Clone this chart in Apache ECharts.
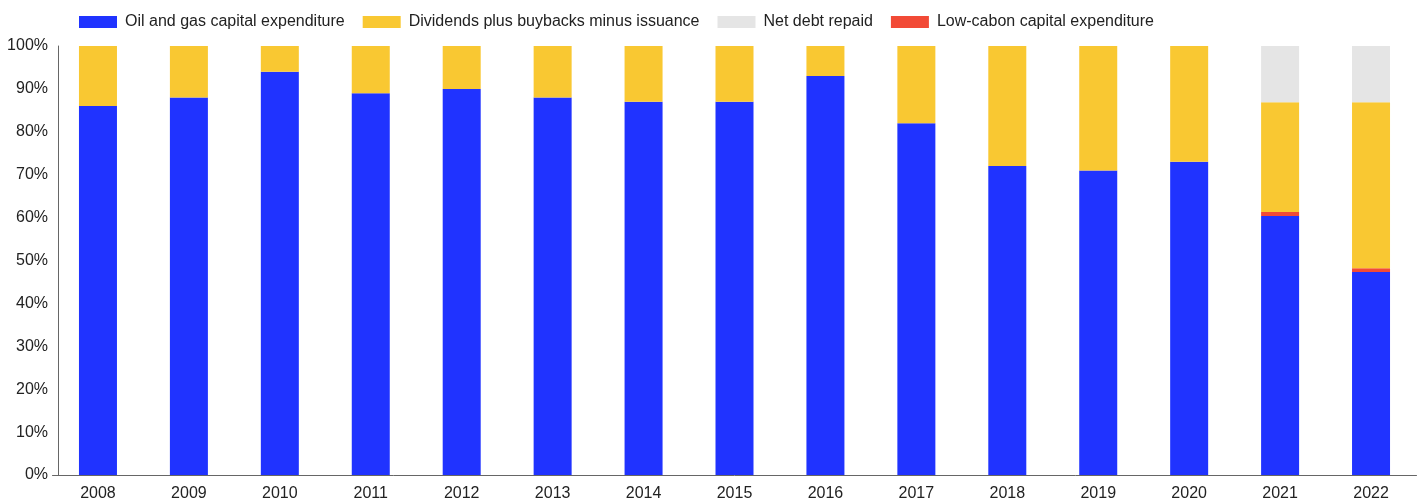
<!DOCTYPE html>
<html>
<head>
<meta charset="utf-8">
<script src="https://cdn.jsdelivr.net/npm/echarts@6/dist/echarts.min.js"></script>
<style>html,body{margin:0;padding:0;background:#fff;}#c{width:1419px;height:502px;}</style>
</head>
<body>
<div id="c"></div>
<script>
const years = ['2008','2009','2010','2011','2012','2013','2014','2015','2016','2017','2018','2019','2020','2021','2022'];
const oilGasCapex = [86, 88, 94, 89, 90, 88, 87, 87, 93, 82, 72, 71, 73, 60.4, 47.3];
const lowCarbonCapex = [0, 0, 0, 0, 0, 0, 0, 0, 0, 0, 0, 0, 0, 0.9, 0.9];
const dividends = [14, 12, 6, 11, 10, 12, 13, 13, 7, 18, 28, 29, 27, 25.6, 38.7];
const netDebt = [0, 0, 0, 0, 0, 0, 0, 0, 0, 0, 0, 0, 0, 13.1, 13.1];
const yTicks = [0, 10, 20, 30, 40, 50, 60, 70, 80, 90, 100];

const names = {
  oil: 'Oil and gas capital expenditure',
  div: 'Dividends plus buybacks minus issuance',
  debt: 'Net debt repaid',
  low: 'Low-cabon capital expenditure'
};
const colors = { oil: '#2033FF', div: '#F9C832', debt: '#E5E5E5', low: '#F24A36' };

const chart = echarts.init(document.getElementById('c'), null, { renderer: 'canvas' });
const axisFont = "'Liberation Sans', Arial, sans-serif";

function bar(key, data) {
  return {
    name: names[key], type: 'bar', stack: 'total', data: data,
    barWidth: 38, itemStyle: { color: colors[key] }, emphasis: { disabled: true }
  };
}

chart.setOption({
  animation: false,
  legend: {
    left: 79, top: 14, padding: 0, itemWidth: 38, itemHeight: 12, itemGap: 18,
    icon: 'rect',
    data: [names.oil, names.div, names.debt, names.low],
    textStyle: { fontFamily: axisFont, fontSize: 16, color: '#222', padding: [0, 0, 0, 3] }
  },
  grid: { left: 52.5, right: 2.5, top: 46, bottom: 26.5, containLabel: false },
  xAxis: {
    type: 'category', data: years,
    axisLine: { lineStyle: { color: '#666', width: 1 } },
    axisTick: { show: false },
    axisLabel: { fontFamily: axisFont, fontSize: 16, color: '#222', margin: 11 }
  },
  yAxis: {
    type: 'value', min: 0, max: 100, interval: 10, offset: -5.5,
    axisLine: { show: true, lineStyle: { color: '#666', width: 1 } },
    axisTick: { show: false },
    splitLine: { show: false },
    axisLabel: { fontFamily: axisFont, fontSize: 16, color: '#222', margin: 10,
      formatter: v => yTicks.includes(v) ? v + '%' : '' }
  },
  series: [
    bar('oil', oilGasCapex),
    bar('low', lowCarbonCapex),
    bar('div', dividends),
    bar('debt', netDebt)
  ]
});
</script>
</body>
</html>
